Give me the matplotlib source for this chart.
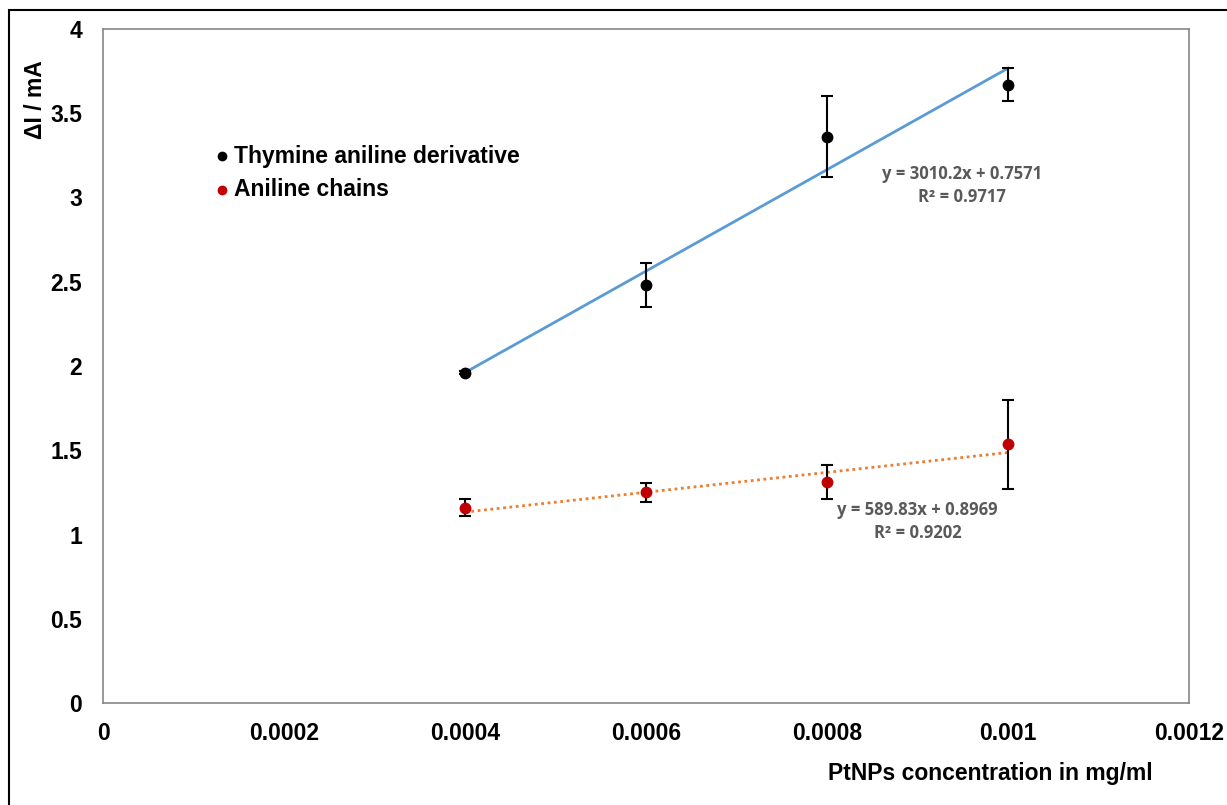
import numpy as np
import matplotlib
matplotlib.use("Agg")
import matplotlib.pyplot as plt
from matplotlib.patches import Rectangle
from matplotlib.lines import Line2D

# PtNPs concentration (mg/ml)
conc = [0.0004, 0.0006, 0.0008, 0.001]

# Thymine aniline derivative: current change (mA) and error
thymine_y = [1.96, 2.48, 3.36, 3.67]
thymine_err = [0.01, 0.13, 0.24, 0.10]

# Aniline chains: current change (mA) and error
aniline_y = [1.16, 1.25, 1.31, 1.535]
aniline_err = [0.05, 0.055, 0.10, 0.265]

# Linear trend lines (slope, intercept, R²)
thymine_fit = (3010.2, 0.7571, 0.9717)
aniline_fit = (589.83, 0.8969, 0.9202)

x_ticks = [0, 0.0002, 0.0004, 0.0006, 0.0008, 0.001, 0.0012]
x_tick_labels = ["0", "0.0002", "0.0004", "0.0006", "0.0008", "0.001", "0.0012"]
y_ticks = [0, 0.5, 1, 1.5, 2, 2.5, 3, 3.5, 4]
y_tick_labels = ["0", "0.5", "1", "1.5", "2", "2.5", "3", "3.5", "4"]

W, H = 1227, 805
fig = plt.figure(figsize=(W / 100, H / 100), dpi=100)
plt.rcParams["font.family"] = ["Liberation Sans", "DejaVu Sans"]
FS = 16.5

# Outer frame
fig.patches.append(Rectangle((9 / W, -0.1), 1.2, 1 - 10 / H + 0.1,
                             transform=fig.transFigure, fill=False,
                             edgecolor="black", linewidth=1.5))

ax = fig.add_axes([103 / W, 1 - 703 / H, (1189 - 103) / W, (703 - 29) / H])
ax.set_xlim(0, 0.0012)
ax.set_ylim(0, 4)
for s in ax.spines.values():
    s.set_color("#878787")
    s.set_linewidth(1.2)
ax.tick_params(length=0)
ax.tick_params(axis="x", pad=14)
ax.tick_params(axis="y", pad=15)
ax.set_xticks(x_ticks)
ax.set_xticklabels(x_tick_labels, fontsize=FS, fontweight="bold")
ax.set_yticks(y_ticks)
ax.set_yticklabels(y_tick_labels, fontsize=FS, fontweight="bold")

xs = np.array([conc[0], conc[-1]])
ax.plot(xs, thymine_fit[0] * xs + thymine_fit[1], color="#5B9BD5", lw=2, zorder=2)
ax.plot(xs, aniline_fit[0] * xs + aniline_fit[1], color="#ED7D31", lw=2,
        ls=(0, (1, 1.3)), zorder=2)

ax.errorbar(conc, thymine_y, yerr=thymine_err, fmt="o", color="black",
            ecolor="black", elinewidth=1.5, capsize=4, capthick=1.5,
            markersize=7.5, zorder=3)
ax.errorbar(conc, aniline_y, yerr=aniline_err, fmt="o", color="#C00000",
            ecolor="black", elinewidth=1.5, capsize=4, capthick=1.5,
            markersize=7.5, zorder=3)

eq_font = ["Open Sans", "DejaVu Sans"]
ax.text(0.000949, 3.07, f"y = {thymine_fit[0]}x + {thymine_fit[1]}\nR² = {thymine_fit[2]}",
        ha="center", va="center", fontsize=12, fontweight="bold", color="#595959",
        family=eq_font, linespacing=1.35)
ax.text(0.0009, 1.075, f"y = {aniline_fit[0]}x + {aniline_fit[1]}\nR² = {aniline_fit[2]}",
        ha="center", va="center", fontsize=12, fontweight="bold", color="#595959",
        family=eq_font, linespacing=1.35)

# Legend
for ypx, col, label in [(156, "black", "Thymine aniline derivative"),
                        (190, "#C00000", "Aniline chains")]:
    fig.add_artist(Line2D([222 / W], [1 - ypx / H], marker="o", markersize=6,
                          color=col, linestyle="none", transform=fig.transFigure))
    fig.text(234 / W, 1 - ypx / H, label, fontsize=FS, fontweight="bold",
             va="center", ha="left")

# Axis titles
fig.text(1153 / W, 1 - 773 / H, "PtNPs concentration in mg/ml", fontsize=FS,
         fontweight="bold", ha="right", va="center")
fig.text(35 / W, 1 - 60 / H, "ΔI / mA", fontsize=FS, fontweight="bold",
         rotation=90, ha="center", va="top")

fig.savefig("out.png", dpi=100)
